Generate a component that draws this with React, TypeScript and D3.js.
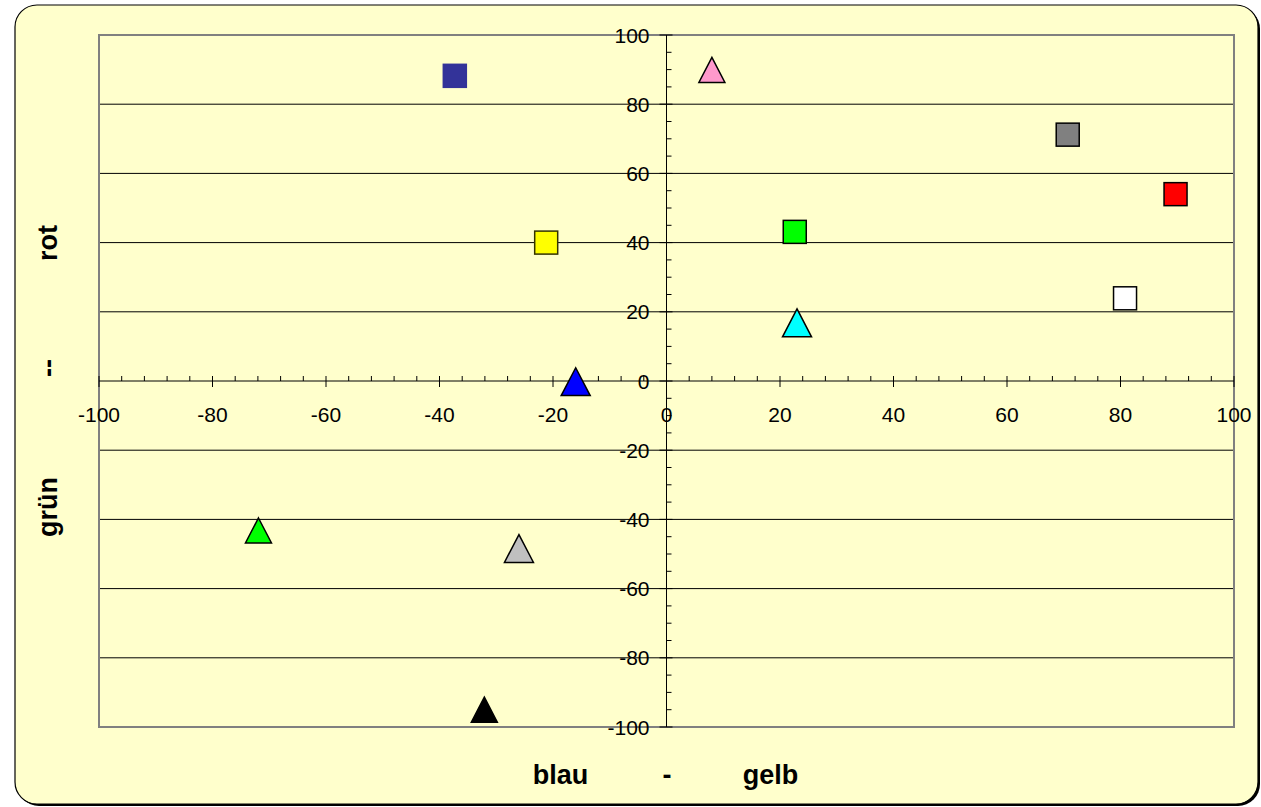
import React from "react";
import * as d3 from "d3";

// Colour coordinates: a = blau (-) / gelb (+), b = grün (-) / rot (+)
const squareA = [-37.3, -21.2, 22.6, 70.7, 89.7, 80.8];
const squareB = [88.2, 40.0, 43.1, 71.2, 54.0, 23.9];
const squareFill = ["#333399", "#FFFF00", "#00FF00", "#808080", "#FF0000", "#FFFFFF"];
const squareStroke = ["#333399", "#333300", "#000000", "#000000", "#000000", "#000000"];

const triangleA = [8.0, -16.0, 23.0, -71.9, -26.0, -32.1];
const triangleB = [89.9, -0.2, 16.8, -43.2, -48.4, -95.0];
const triangleFill = ["#FF99CC", "#0000FF", "#00FFFF", "#00FF00", "#C0C0C0", "#000000"];
const triangleSize = [26, 29, 29, 26, 29, 26];

const majorTicks = [-100, -80, -60, -40, -20, 0, 20, 40, 60, 80, 100];
const xMinorStep = 4;
const yMinorStep = 5;

const W = 1261;
const H = 807;
const FONT = "Arial, 'Liberation Sans', sans-serif";

export default function App() {
  const x = d3.scaleLinear().domain([-100, 100]).range([99, 1234]);
  const y = d3.scaleLinear().domain([-100, 100]).range([727, 35]);
  const x0 = x(0);
  const y0 = y(0);

  const xMinor = d3.range(-100, 100.001, xMinorStep).filter((v) => Math.abs(v % 20) > 1e-6);
  const yMinor = d3.range(-100, 100.001, yMinorStep).filter((v) => Math.abs(v % 20) > 1e-6);

  const tri = (s: number) => {
    const h = s * 0.96;
    return `M0,${-h / 2}L${s / 2},${h / 2}L${-s / 2},${h / 2}Z`;
  };

  return (
    <svg
      width={W}
      height={H}
      style={{ position: "absolute", left: 0, top: 0, display: "block" }}
      fontFamily={FONT}
    >
      {/* chart area with shadow */}
      <rect x={17} y={7} width={1243} height={799} rx={22} fill="#000" />
      <rect x={15} y={5} width={1243} height={799} rx={22} fill="#FFFFCC" stroke="#000" strokeWidth={1.2} />

      {/* plot area */}
      <rect
        x={x(-100)}
        y={y(100)}
        width={x(100) - x(-100)}
        height={y(-100) - y(100)}
        fill="#FFFFCC"
      />

      {/* horizontal gridlines */}
      {majorTicks
        .filter((v) => v !== 100 && v !== -100 && v !== 0)
        .map((v) => (
          <line key={"g" + v} x1={x(-100)} x2={x(100)} y1={y(v)} y2={y(v)} stroke="#000" strokeWidth={1} />
        ))}

      <rect
        x={x(-100)}
        y={y(100)}
        width={x(100) - x(-100)}
        height={y(-100) - y(100)}
        fill="none"
        stroke="#808080"
        strokeWidth={2}
      />

      {/* horizontal axis */}
      <line x1={x(-100)} x2={x(100)} y1={y0} y2={y0} stroke="#000" strokeWidth={1} />
      {xMinor.map((v) => (
        <line key={"xm" + v} x1={x(v)} x2={x(v)} y1={y0 - 5} y2={y0} stroke="#000" strokeWidth={1} />
      ))}
      {majorTicks.map((v) => (
        <line key={"xM" + v} x1={x(v)} x2={x(v)} y1={y0 - 5} y2={y0 + 6} stroke="#000" strokeWidth={1} />
      ))}
      {majorTicks.map((v) => (
        <text key={"xl" + v} x={x(v)} y={y0 + 41} fontSize={21} textAnchor="middle" fill="#000">
          {v}
        </text>
      ))}

      {/* vertical axis */}
      <line x1={x0} x2={x0} y1={y(100)} y2={y(-100)} stroke="#000" strokeWidth={1} />
      {yMinor.map((v) => (
        <line key={"ym" + v} x1={x0} x2={x0 + 5} y1={y(v)} y2={y(v)} stroke="#000" strokeWidth={1} />
      ))}
      {majorTicks.map((v) => (
        <line key={"yM" + v} x1={x0 - 7} x2={x0 + 6} y1={y(v)} y2={y(v)} stroke="#000" strokeWidth={1} />
      ))}
      {majorTicks.map((v) => (
        <text key={"yl" + v} x={x0 - 17} y={y(v) + 7.5} fontSize={21} textAnchor="end" fill="#000">
          {v}
        </text>
      ))}

      {/* squares */}
      {squareA.map((a, i) => (
        <rect
          key={"s" + i}
          x={x(a) - 11.5}
          y={y(squareB[i]) - 11.5}
          width={23}
          height={23}
          fill={squareFill[i]}
          stroke={squareStroke[i]}
          strokeWidth={1.5}
        />
      ))}

      {/* triangles */}
      {triangleA.map((a, i) => (
        <path
          key={"t" + i}
          d={tri(triangleSize[i])}
          transform={`translate(${x(a)},${y(triangleB[i])})`}
          fill={triangleFill[i]}
          stroke="#000"
          strokeWidth={1.5}
          strokeLinejoin="miter"
        />
      ))}

      {/* axis titles */}
      <g fontSize={27} fontWeight="bold" fill="#000" textAnchor="middle">
        <text x={560.5} y={784}>blau</text>
        <text x={667} y={784}>-</text>
        <text x={770.5} y={784}>gelb</text>
        <text transform="translate(57,243) rotate(-90)">rot</text>
        <text transform="translate(57,368) rotate(-90)">--</text>
        <text transform="translate(57,507) rotate(-90)">grün</text>
      </g>
    </svg>
  );
}
